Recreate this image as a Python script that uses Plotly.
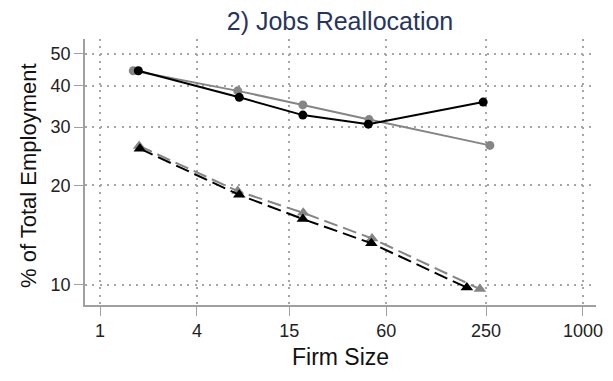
import plotly.graph_objects as go

# Data
size_black_circ = [1.73, 7.33, 18.2, 46.4, 240]
emp_black_circ = [44.4, 36.9, 32.6, 30.6, 35.7]
size_gray_circ = [1.61, 7.17, 18.2, 46.9, 264]
emp_gray_circ = [44.4, 38.6, 35.0, 31.6, 26.4]
size_black_tri = [1.77, 7.33, 18.2, 48.5, 190]
emp_black_tri = [25.8, 18.7, 15.8, 13.35, 9.8]
size_gray_tri = [1.75, 7.17, 18.3, 49.0, 229]
emp_gray_tri = [26.3, 19.2, 16.5, 13.8, 9.7]

x_ticks = [1, 4, 15, 60, 250, 1000]
y_ticks = [10, 20, 30, 40, 50]

FONT = "Liberation Sans, Arial, Helvetica, sans-serif"
BLACK = "#000000"
GRAY = "#858585"

# page has ~8px body margin, so figure is sized to fit the window
W, H = 605, 373
L, R, T, B = 77, 17, 31, 76
PW = W - L - R

fig = go.Figure()
fig.add_trace(go.Scatter(x=size_gray_tri, y=emp_gray_tri, mode="lines+markers",
                         line=dict(color=GRAY, width=2, dash="14px,6px"),
                         marker=dict(symbol="triangle-up", size=11, color=GRAY),
                         showlegend=False))
fig.add_trace(go.Scatter(x=size_black_tri, y=emp_black_tri, mode="lines+markers",
                         line=dict(color=BLACK, width=2, dash="14px,6px"),
                         marker=dict(symbol="triangle-up", size=11, color=BLACK),
                         showlegend=False))
fig.add_trace(go.Scatter(x=size_gray_circ, y=emp_gray_circ, mode="lines+markers",
                         line=dict(color=GRAY, width=2),
                         marker=dict(symbol="circle", size=9, color=GRAY),
                         showlegend=False))
fig.add_trace(go.Scatter(x=size_black_circ, y=emp_black_circ, mode="lines+markers",
                         line=dict(color=BLACK, width=2),
                         marker=dict(symbol="circle", size=9, color=BLACK),
                         showlegend=False))

axis_common = dict(
    showline=True, linecolor="#a0a0a0", linewidth=1.6,
    ticks="outside", ticklen=9, tickcolor="#a0a0a0", tickwidth=1.4,
    showgrid=True, gridcolor="#a6a6a6", griddash="2px,5.3px", gridwidth=1.5,
    zeroline=False, automargin=False,
    tickfont=dict(family=FONT, size=18, color="#222"),
)

fig.update_layout(
    width=W, height=H,
    margin=dict(l=L, r=R, t=T, b=B),
    paper_bgcolor="white", plot_bgcolor="white",
    title=dict(text="2) Jobs Reallocation", x=332 / W, xanchor="center",
               yref="container", y=1 - 13 / H, yanchor="middle",
               font=dict(family=FONT, size=25, color="#26355f")),
    xaxis=dict(type="log", range=[-0.0932, 3.081], tickvals=x_ticks,
               ticktext=[str(v) for v in x_ticks], **axis_common),
    yaxis=dict(type="log", range=[0.9386, 1.7435], tickvals=y_ticks,
               ticktext=[str(v) for v in y_ticks], **axis_common),
    annotations=[
        dict(text="Firm Size", xref="paper", yref="paper", x=(332 - L) / PW, y=0,
             xanchor="center", yanchor="middle", yshift=-52, showarrow=False,
             font=dict(family=FONT, size=23, color="#111")),
        dict(text="% of Total Employment", xref="paper", yref="paper", x=0, y=(305 - 176) / 266,
             xanchor="center", yanchor="middle", xshift=-57, textangle=-90, showarrow=False,
             font=dict(family=FONT, size=22, color="#111")),
    ],
)

fig.write_html("out.html")
